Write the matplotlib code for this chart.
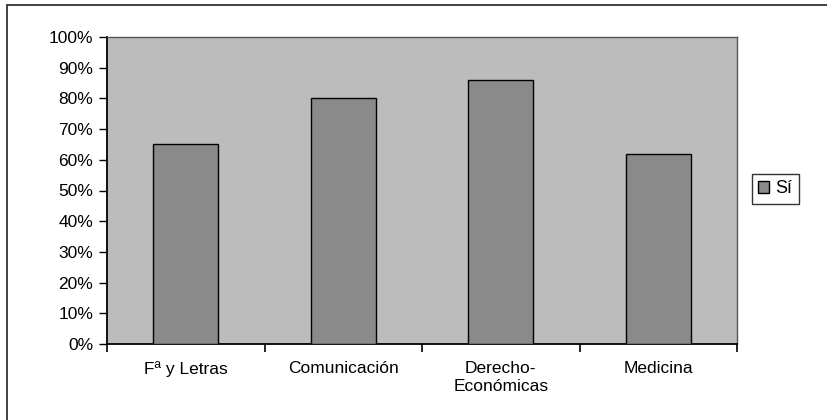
import numpy as np
import matplotlib
matplotlib.use("Agg")
import matplotlib.pyplot as plt
from matplotlib.patches import Rectangle
from matplotlib.ticker import PercentFormatter

# data
categories = ["Fª y Letras", "Comunicación", "Derecho-\nEconómicas", "Medicina"]
si_values = [65, 80, 86, 62]
y_ticks = list(range(0, 101, 10))

plt.rcParams["font.family"] = ["Liberation Sans", "DejaVu Sans"]

fig = plt.figure(figsize=(8.28, 4.2), dpi=100)
W, H = 828, 420

# outer frame of the chart (only left + top border visible)
fig.patches.append(Rectangle((7 / W, -0.1), 1.2, (415 / H) + 0.1,
                             transform=fig.transFigure, fill=False,
                             edgecolor="#333333", linewidth=1.3))

ax = fig.add_axes([107 / W, (H - 344) / H, 630 / W, 307 / H])
ax.set_facecolor("#bcbcbc")

x = np.arange(len(categories))
bars = ax.bar(x, si_values, width=0.41, color="#8a8a8a",
              edgecolor="black", linewidth=1.0, label="Sí", zorder=3)

ax.set_xlim(-0.5, len(categories) - 0.5)
ax.set_ylim(0, 100)
ax.set_yticks(y_ticks)
ax.yaxis.set_major_formatter(PercentFormatter(decimals=0))

# ticks at the category boundaries, labels at the centres
ax.set_xticks(np.arange(len(categories) + 1) - 0.5)
ax.set_xticklabels([])
ax.set_xticks(x, minor=True)
ax.set_xticklabels(categories, minor=True, linespacing=1.25)
ax.tick_params(axis="x", which="major", direction="out", length=6, width=1.2)
ax.tick_params(axis="x", which="minor", length=0, pad=12, labelsize=12.5)
ax.tick_params(axis="y", direction="out", length=6, width=1.0, labelsize=12.5, pad=4)

for s in ["left", "bottom"]:
    ax.spines[s].set_color("black")
    ax.spines[s].set_linewidth(1.3)
for s in ["top", "right"]:
    ax.spines[s].set_color("#555555")
    ax.spines[s].set_linewidth(1.0)

leg = fig.legend(handles=[bars], labels=["Sí"], loc="center left",
                 bbox_to_anchor=(752 / W, 1 - 189 / H), frameon=True,
                 fancybox=False, edgecolor="black", fontsize=13,
                 handlelength=0.6, handleheight=0.6, handletextpad=0.35,
                 borderpad=0.35, borderaxespad=0)
leg.get_frame().set_linewidth(1.0)

fig.savefig("out.png", dpi=100)
